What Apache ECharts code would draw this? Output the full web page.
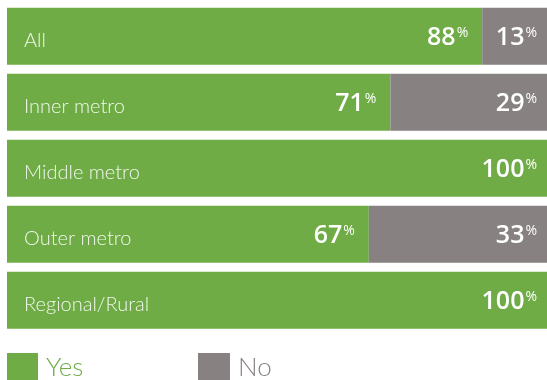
<!DOCTYPE html>
<html>
<head>
<meta charset="utf-8">
<script src="https://cdn.jsdelivr.net/npm/echarts@6/dist/echarts.min.js"></script>
<style>
html,body{margin:0;padding:0;background:#fff;}
#chart{width:547px;height:380px;}
</style>
</head>
<body>
<div id="chart"></div>
<script>
var categories = ['All', 'Inner metro', 'Middle metro', 'Outer metro', 'Regional/Rural'];
var yesValues = [88, 71, 100, 67, 100];
var noValues = [13, 29, 0, 33, 0];
var seriesNames = ['Yes', 'No'];

var GREEN = '#6fac46';
var GRAY = '#878181';
var FONT = 'Lato, "Open Sans", sans-serif';
var NUMFONT = '"Open Sans", Lato, sans-serif';

var rich = {
  n: { fontSize: 25, fontWeight: 600, color: '#fff', fontFamily: NUMFONT, lineHeight: 28 },
  p: { fontSize: 14, color: '#fff', fontFamily: NUMFONT, verticalAlign: 'top', lineHeight: 28, padding: [2, 0, 0, 1] }
};

function valLabel(dist) {
  return {
    show: true,
    position: 'insideRight',
    distance: dist,
    padding: [4, 0, 0, 0],
    formatter: function (p) { return p.value > 0 ? '{n|' + p.value + '}{p|%}' : ''; },
    rich: rich
  };
}

var chart = echarts.init(document.getElementById('chart'), null, { renderer: 'canvas' });
chart.setOption({
  animation: false,
  backgroundColor: '#fff',
  grid: { left: 7, right: 0, top: 3.25, bottom: 46.75, containLabel: false },
  xAxis: {
    type: 'value', min: 0, max: 100, show: false
  },
  yAxis: {
    type: 'category', data: categories, inverse: true, z: 10,
    axisLine: { show: false }, axisTick: { show: false }, splitLine: { show: false },
    axisLabel: {
      inside: true, margin: 17,
      formatter: function (v) { return '{c|' + v + '}'; },
      rich: {
        c: {
          color: 'rgba(255,255,255,0.9)', fontSize: 20, fontWeight: 300, fontFamily: FONT,
          padding: [9, 0, 0, 0]
        }
      }
    }
  },
  legend: [
    {
      data: [{ name: seriesNames[0], textStyle: { color: GREEN } }],
      left: 7, top: 353, padding: 0, icon: 'rect', itemWidth: 31, itemHeight: 30, itemGap: 0,
      textStyle: { fontSize: 26, fontWeight: 300, fontFamily: FONT, padding: [0, 0, 0, 3] },
      selectedMode: false
    },
    {
      data: [{ name: seriesNames[1], textStyle: { color: GRAY } }],
      left: 198, top: 353, padding: 0, icon: 'rect', itemWidth: 32, itemHeight: 30, itemGap: 0,
      textStyle: { fontSize: 26, fontWeight: 300, fontFamily: FONT, padding: [0, 0, 0, 3] },
      selectedMode: false
    }
  ],
  series: [
    {
      name: seriesNames[0], type: 'bar', stack: 'total', barWidth: 57,
      itemStyle: { color: GREEN },
      data: yesValues.map(function (v) {
        return { value: v, label: valLabel(v >= 100 ? 10 : 14) };
      })
    },
    {
      name: seriesNames[1], type: 'bar', stack: 'total', barWidth: 57,
      itemStyle: { color: GRAY },
      label: valLabel(10),
      data: noValues
    }
  ]
});
</script>
</body>
</html>
